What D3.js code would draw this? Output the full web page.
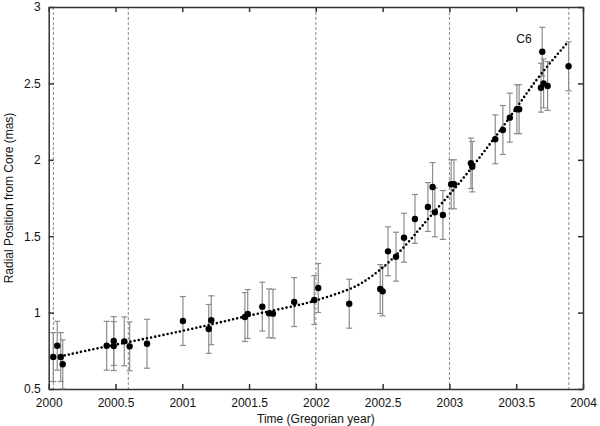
<!DOCTYPE html>
<html>
<head>
<meta charset="utf-8">
<script src="https://cdn.jsdelivr.net/npm/d3@7/dist/d3.min.js"></script>
<style>
  html, body { margin: 0; padding: 0; background: #fff; }
  svg { display: block; }
  text { font-family: "Liberation Sans", Arial, Helvetica, sans-serif; fill: #111; }
</style>
</head>
<body>
<script>
// ---- data ----
const epochs = [2000.034, 2000.064, 2000.090, 2000.105, 2000.434, 2000.487, 2000.487, 2000.566, 2000.606, 2000.736,
  2001.005, 2001.198, 2001.217, 2001.469, 2001.490, 2001.599, 2001.649, 2001.679, 2001.838, 2001.988,
  2002.018, 2002.250, 2002.482, 2002.500, 2002.540, 2002.600, 2002.660, 2002.742, 2002.839, 2002.874,
  2002.891, 2002.951, 2003.013, 2003.034, 2003.161, 2003.171, 2003.343, 2003.400, 2003.452, 2003.505,
  2003.522, 2003.685, 2003.695, 2003.705, 2003.735, 2003.892];
const positions = [0.709, 0.783, 0.709, 0.662, 0.783, 0.814, 0.781, 0.812, 0.779, 0.796,
  0.945, 0.893, 0.950, 0.971, 0.991, 1.039, 0.995, 0.993, 1.069, 1.082,
  1.161, 1.058, 1.154, 1.139, 1.401, 1.366, 1.490, 1.613, 1.691, 1.822,
  1.656, 1.639, 1.840, 1.840, 1.977, 1.955, 2.134, 2.195, 2.276, 2.331,
  2.331, 2.472, 2.707, 2.500, 2.483, 2.612];
const errors = [0.16, 0.16, 0.16, 0.16, 0.16, 0.16, 0.16, 0.16, 0.16, 0.16,
  0.16, 0.16, 0.16, 0.16, 0.16, 0.16, 0.16, 0.16, 0.16, 0.16,
  0.16, 0.16, 0.16, 0.16, 0.16, 0.16, 0.16, 0.16, 0.16, 0.16,
  0.16, 0.16, 0.16, 0.16, 0.165, 0.165, 0.16, 0.16, 0.16, 0.16,
  0.16, 0.16, 0.16, 0.16, 0.16, 0.16];
const fitEpochs = [2000.12, 2000.42, 2000.80, 2001.17, 2001.51, 2001.88, 2002.00, 2002.26, 2002.36, 2002.48,
  2002.61, 2002.73, 2002.85, 2003.03, 2003.18, 2003.30, 2003.43, 2003.55, 2003.68, 2003.89];
const fitValues = [0.720, 0.777, 0.842, 0.912, 0.984, 1.050, 1.078, 1.152, 1.200, 1.277,
  1.380, 1.497, 1.625, 1.800, 1.962, 2.100, 2.250, 2.400, 2.560, 2.773];
const vLines = [2000.035, 2000.596, 2002.0, 2003.0, 2003.894];
const xTicks = [2000, 2000.5, 2001, 2001.5, 2002, 2002.5, 2003, 2003.5, 2004];
const yTicks = [0.5, 1, 1.5, 2, 2.5, 3];
const componentLabel = "C6";
const xTitle = "Time (Gregorian year)";
const yTitle = "Radial Position from Core (mas)";

// ---- layout ----
const W = 600, H = 426;
const m = { left: 48.7, right: 17, top: 7, bottom: 37 };
const svg = d3.select("body").append("svg").attr("width", W).attr("height", H);

const x = d3.scaleLinear().domain([2000, 2004]).range([m.left, W - m.right]);
const y = d3.scaleLinear().domain([0.5, 3]).range([H - m.bottom, m.top]);

// vertical dashed lines
svg.append("g").selectAll("line").data(vLines).join("line")
  .attr("x1", d => x(d)).attr("x2", d => x(d))
  .attr("y1", y(3)).attr("y2", y(0.5))
  .attr("stroke", "#8a8a8a").attr("stroke-width", 1)
  .attr("stroke-dasharray", "3,2");

// axes (ticks inward on all four sides)
const fmt = d => String(d);
const tl = 5;
svg.append("g").attr("transform", `translate(0,${y(0.5)})`)
  .call(d3.axisBottom(x).tickValues(xTicks).tickFormat(fmt).tickSizeInner(-tl).tickSizeOuter(0).tickPadding(9));
svg.append("g").attr("transform", `translate(0,${y(3)})`)
  .call(d3.axisTop(x).tickValues(xTicks).tickFormat("").tickSizeInner(-tl).tickSizeOuter(0));
svg.append("g").attr("transform", `translate(${x(2000)},0)`)
  .call(d3.axisLeft(y).tickValues(yTicks).tickFormat(fmt).tickSizeInner(-tl).tickSizeOuter(0).tickPadding(8));
svg.append("g").attr("transform", `translate(${x(2004)},0)`)
  .call(d3.axisRight(y).tickValues(yTicks).tickFormat("").tickSizeInner(-tl).tickSizeOuter(0));

svg.selectAll(".domain").attr("stroke", "#333").attr("stroke-width", 1.5);
svg.selectAll(".tick line").attr("stroke", "#333").attr("stroke-width", 1.5);
svg.selectAll(".tick text").attr("font-size", 12).attr("fill", "#111")
  .attr("font-family", "'Liberation Sans', Arial, sans-serif");

// error bars
const pts = epochs.map((t, i) => ({ t, v: positions[i], e: errors[i] }));
const eb = svg.append("g").attr("stroke", "#8c8c8c").attr("stroke-width", 1.2);
pts.forEach(p => {
  const lo = Math.max(p.v - p.e, 0.5);
  eb.append("line").attr("x1", x(p.t)).attr("x2", x(p.t))
    .attr("y1", y(p.v + p.e)).attr("y2", y(lo));
  eb.append("line").attr("x1", x(p.t) - 3).attr("x2", x(p.t) + 3)
    .attr("y1", y(p.v + p.e)).attr("y2", y(p.v + p.e));
  if (p.v - p.e > 0.5) {
    eb.append("line").attr("x1", x(p.t) - 3).attr("x2", x(p.t) + 3)
      .attr("y1", y(p.v - p.e)).attr("y2", y(p.v - p.e));
  }
});

// fitted dotted curve
const fit = fitEpochs.map((t, i) => [t, fitValues[i]]);
svg.append("path").datum(fit)
  .attr("d", d3.line().x(d => x(d[0])).y(d => y(d[1])).curve(d3.curveBasis))
  .attr("fill", "none").attr("stroke", "#000").attr("stroke-width", 2.6)
  .attr("stroke-linecap", "round").attr("stroke-dasharray", "0,4.2");

// data points
svg.append("g").selectAll("circle").data(pts).join("circle")
  .attr("cx", d => x(d.t)).attr("cy", d => y(d.v)).attr("r", 3.2).attr("fill", "#000");

// labels
svg.append("text").attr("x", 524).attr("y", 43).attr("text-anchor", "middle")
  .attr("font-size", 12).text(componentLabel);
svg.append("text").attr("x", (x(2000) + x(2004)) / 2).attr("y", 423)
  .attr("text-anchor", "middle").attr("font-size", 12).text(xTitle);
svg.append("text").attr("transform", `translate(13,${(y(0.5) + y(3)) / 2}) rotate(-90)`)
  .attr("text-anchor", "middle").attr("font-size", 12).text(yTitle);
</script>
</body>
</html>
